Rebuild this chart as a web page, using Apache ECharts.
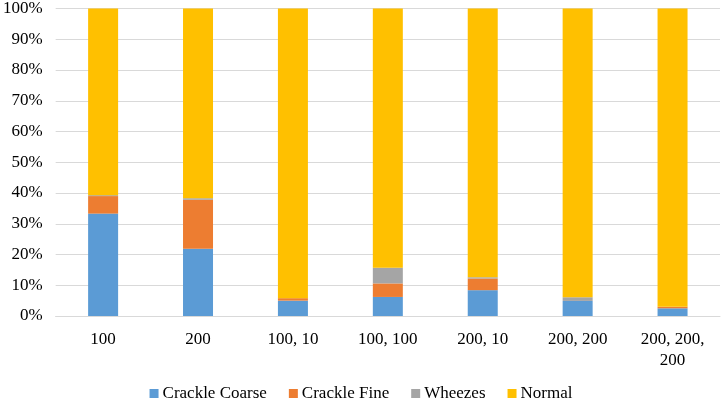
<!DOCTYPE html>
<html><head><meta charset="utf-8">
<script src="https://cdn.jsdelivr.net/npm/echarts@6/dist/echarts.min.js"></script>
<style>html,body{margin:0;padding:0;background:#fff}#c{width:722px;height:401px}</style>
</head><body><div id="c"></div>
<script>
const categories = ["100", "200", "100, 10", "100, 100", "200, 10", "200, 200", "200, 200, 200"];
const crackleCoarse = [33.3, 21.9, 5.0, 6.2, 8.4, 4.9, 2.5];
const crackleFine = [5.7, 15.9, 0.8, 4.4, 3.8, 0, 0.5];
const wheezes = [0.3, 0.5, 0, 5.1, 0.4, 1.2, 0];
const normal = crackleCoarse.map((v, i) => 100 - v - crackleFine[i] - wheezes[i]);
const yTicks = [0, 10, 20, 30, 40, 50, 60, 70, 80, 90, 100];

const font = "'Liberation Serif', 'Times New Roman', serif";
const chart = echarts.init(document.getElementById('c'));
function s(name, data, color) {
  return { name, type: 'bar', stack: 'a', data, barWidth: 30, itemStyle: { color }, emphasis: { disabled: true } };
}
chart.setOption({
  animation: false,
  textStyle: { fontFamily: font },
  grid: { left: 54, right: 2, top: 6, bottom: 85, containLabel: false },
  legend: {
    top: 385, left: 'center', padding: 0, itemWidth: 9, itemHeight: 9, itemGap: 22, icon: 'rect',
    textStyle: { fontFamily: font, fontSize: 17, color: '#000', padding: [0, 0, 0, -1] },
    data: ['Crackle Coarse', 'Crackle Fine', 'Wheezes', 'Normal']
  },
  xAxis: {
    type: 'category', data: categories,
    axisLine: { show: true, lineStyle: { color: '#d9d9d9' } }, axisTick: { show: false },
    axisLabel: {
      fontFamily: font, fontSize: 17, color: '#000', margin: 13, lineHeight: 21, interval: 0,
      formatter: v => v.length > 10 ? v.replace(/, (?=[^,]*$)/, ',\n') : v
    }
  },
  yAxis: {
    type: 'value', min: yTicks[0], max: yTicks[yTicks.length - 1], interval: 10,
    axisLine: { show: false }, axisTick: { show: false },
    splitLine: { lineStyle: { color: '#d9d9d9' } },
    axisLabel: { fontFamily: font, fontSize: 17, color: '#000', margin: 13, formatter: '{value}%' }
  },
  series: [
    s('Crackle Coarse', crackleCoarse, '#5B9BD5'),
    s('Crackle Fine', crackleFine, '#ED7D31'),
    s('Wheezes', wheezes, '#A5A5A5'),
    s('Normal', normal, '#FFC000')
  ]
});
</script></body></html>
